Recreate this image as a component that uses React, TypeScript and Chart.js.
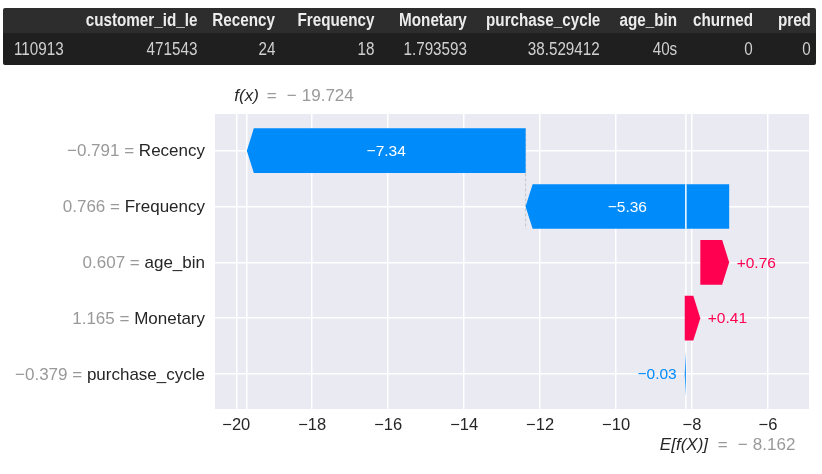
import { useEffect, useRef } from "react";
import { Chart, registerables } from "chart.js";

Chart.register(...registerables);

// ---- data ----
const tableColumns = ["", "customer_id_le", "Recency", "Frequency", "Monetary", "purchase_cycle", "age_bin", "churned", "pred"];
const tableRow = ["110913", "471543", "24", "18", "1.793593", "38.529412", "40s", "0", "0"];

const features = ["Recency", "Frequency", "age_bin", "Monetary", "purchase_cycle"];
const featureValues = [-0.791, 0.766, 0.607, 1.165, -0.379];
const shapValues = [-7.34, -5.36, 0.76, 0.41, -0.03];
const baseValue = -8.162;
const fxValue = -19.724;
const xTicks = [-20, -18, -16, -14, -12, -10, -8, -6];

// ---- style ----
const FONT = "'Liberation Sans', Arial, Helvetica, sans-serif";
const BLUE = "#008bfb";
const PINK = "#ff0051";
const DARK = "#262626";
const GRAY = "#999999";
const colWidths = [77, 122, 78, 99, 93, 133, 77, 76, 58];

const minus = (s: string) => s.replace(/-/g, "\u2212");

export default function App() {
  const ref = useRef<HTMLCanvasElement>(null);

  useEffect(() => {
    const canvas = ref.current;
    if (!canvas) return;
    const n = features.length;
    const starts: number[] = new Array(n);
    const ends: number[] = new Array(n);
    let cum = baseValue;
    for (let i = n - 1; i >= 0; i--) {
      starts[i] = cum;
      ends[i] = cum + shapValues[i];
      cum = ends[i];
    }

    const plugin = {
      id: "waterfall",
      beforeDatasetsDraw(chart: any) {
        const { ctx, chartArea, scales } = chart;
        const x = scales.x, y = scales.y;
        ctx.save();
        ctx.strokeStyle = "#ffffff";
        ctx.lineWidth = 1.5;
        [fxValue, baseValue].forEach((v) => {
          const px = x.getPixelForValue(v);
          ctx.beginPath();
          ctx.moveTo(px, chartArea.top);
          ctx.lineTo(px, chartArea.bottom);
          ctx.stroke();
        });
        ctx.strokeStyle = "#bbbbbb";
        ctx.lineWidth = 0.8;
        ctx.setLineDash([3, 2]);
        for (let k = 0; k + 4 < n; k++) {
          const px = x.getPixelForValue(starts[k]);
          ctx.beginPath();
          ctx.moveTo(px, y.getPixelForValue(k - 0.4));
          ctx.lineTo(px, y.getPixelForValue(k + 1.4));
          ctx.stroke();
        }
        ctx.restore();
      },
      afterDatasetsDraw(chart: any) {
        const { ctx, scales } = chart;
        const x = scales.x;
        const meta = chart.getDatasetMeta(0);
        ctx.save();
        const basePx = x.getPixelForValue(baseValue);
        meta.data.forEach((el: any, i: number) => {
          const { y: cy, height } = el.getProps(["y", "height"], true);
          const s = x.getPixelForValue(starts[i]);
          const e = x.getPixelForValue(ends[i]);
          const dir = e >= s ? 1 : -1;
          const len = Math.abs(e - s);
          const hl = Math.min(7, len);
          const top = cy - height / 2;
          const bot = cy + height / 2;
          const neck = e - dir * hl;
          const color = shapValues[i] > 0 ? PINK : BLUE;
          ctx.fillStyle = color;
          ctx.beginPath();
          ctx.moveTo(s, top);
          ctx.lineTo(neck, top);
          ctx.lineTo(e, cy);
          ctx.lineTo(neck, bot);
          ctx.lineTo(s, bot);
          ctx.closePath();
          ctx.fill();

          const label = (shapValues[i] > 0 ? "+" : "\u2212") + Math.abs(shapValues[i]).toFixed(2);
          ctx.font = `15.5px ${FONT}`;
          ctx.textBaseline = "middle";
          const tw = ctx.measureText(label).width;
          if (len > tw + 14) {
            const lo = Math.min(s, e), hi = Math.max(s, e);
            if (basePx > lo + hl && basePx < hi - hl) {
              ctx.strokeStyle = "#ffffff";
              ctx.lineWidth = 1.5;
              ctx.beginPath();
              ctx.moveTo(basePx, top);
              ctx.lineTo(basePx, bot);
              ctx.stroke();
            }
            ctx.fillStyle = "#ffffff";
            ctx.textAlign = "center";
            ctx.fillText(label, (s + e) / 2, cy + 1);
          } else {
            ctx.fillStyle = color;
            if (dir > 0) {
              ctx.textAlign = "left";
              ctx.fillText(label, e + 7.5, cy + 1);
            } else {
              ctx.textAlign = "right";
              ctx.fillText(label, e - 8, cy + 1);
            }
          }
        });
        ctx.restore();
      },
      afterDraw(chart: any) {
        const { ctx, chartArea, scales } = chart;
        const x = scales.x, y = scales.y;
        ctx.save();
        ctx.textBaseline = "middle";
        const rightX = chartArea.left - 10;
        features.forEach((name, i) => {
          const py = y.getPixelForValue(i) + 1;
          ctx.font = `17px ${FONT}`;
          ctx.textAlign = "right";
          ctx.fillStyle = DARK;
          ctx.fillText(name, rightX, py);
          const w = ctx.measureText(name).width;
          ctx.fillStyle = GRAY;
          ctx.fillText(minus(featureValues[i].toFixed(3)) + " = ", rightX - w, py);
        });
        const drawEq = (px: number, py: number, lab: string, labOff: number, eqOff: number, val: number) => {
          ctx.textAlign = "left";
          ctx.font = `italic 17px ${FONT}`;
          ctx.fillStyle = DARK;
          ctx.fillText(lab, px + labOff, py);
          ctx.font = `17px ${FONT}`;
          ctx.fillStyle = GRAY;
          ctx.fillText("=", px + eqOff, py);
          ctx.fillText(val < 0 ? "\u2212" : "", px + eqOff + 20, py);
          ctx.fillText(Math.abs(val).toFixed(3), px + eqOff + 35, py);
        };
        drawEq(x.getPixelForValue(fxValue), chartArea.top - 18, "f(x)", -12.5, 20, fxValue);
        drawEq(x.getPixelForValue(baseValue), chartArea.bottom + 36, "E[f(X)]", -26, 32, baseValue);
        ctx.restore();
      },
    };

    const chart = new Chart(canvas, {
      type: "bar",
      data: {
        datasets: [
          {
            data: features.map((_, i) => ({ x: [starts[i], ends[i]], y: i })) as any,
            backgroundColor: "rgba(0,0,0,0)",
            borderWidth: 0,
            categoryPercentage: 0.8,
            barPercentage: 1,
          },
        ],
      },
      options: {
        indexAxis: "y",
        responsive: false,
        animation: false,
        layout: { padding: { top: 114, right: 13, left: 0, bottom: 0 } },
        plugins: { legend: { display: false }, tooltip: { enabled: false } },
        scales: {
          x: {
            type: "linear",
            position: "bottom",
            min: -20.56,
            max: -4.92,
            afterBuildTicks: (scale: any) => {
              scale.ticks = xTicks.map((v) => ({ value: v }));
            },
            afterFit: (scale: any) => {
              scale.height = 65;
            },
            grid: { color: "#ffffff", lineWidth: 1.5, drawTicks: false },
            border: { display: false },
            ticks: {
              padding: 7,
              color: DARK,
              font: { family: FONT, size: 16.5 },
              callback: (v: any) => minus(String(v)),
            },
          },
          y: {
            type: "linear",
            reverse: true,
            offset: false,
            min: -0.657,
            max: 4.627,
            afterBuildTicks: (scale: any) => {
              scale.ticks = features.map((_, i) => ({ value: i }));
            },
            afterFit: (scale: any) => {
              scale.width = 215;
            },
            grid: { color: "#ffffff", lineWidth: 1.5, drawTicks: false, offset: false },
            border: { display: false },
            ticks: { display: false },
          },
        },
      },
      plugins: [
        {
          id: "bg",
          beforeDraw(chart: any) {
            const { ctx, chartArea } = chart;
            ctx.save();
            ctx.fillStyle = "#eaeaf2";
            ctx.fillRect(chartArea.left, chartArea.top, chartArea.right - chartArea.left, chartArea.bottom - chartArea.top);
            ctx.restore();
          },
        },
        plugin,
      ],
    } as any);
    return () => chart.destroy();
  }, []);

  const cellStyle = (i: number, header: boolean): any => ({
    padding: i === 0 ? "0 0 0 11px" : "0 5px 0 0",
    textAlign: i === 0 ? "left" : "right",
    whiteSpace: "nowrap",
    overflow: "visible",
    fontWeight: header ? "bold" : "normal",
    color: header ? "#ececec" : "#d0d0d0",
  });
  const spanStyle = (i: number): any => ({
    display: "inline-block",
    transform: "scaleX(0.87)",
    transformOrigin: i === 0 ? "left center" : "right center",
    marginLeft: i === 0 ? 0 : -200,
    marginRight: i === 0 ? -200 : 0,
  });

  return (
    <div style={{ position: "fixed", left: 0, top: 0, width: 822, height: 474, background: "#ffffff", overflow: "hidden" }}>
      <canvas ref={ref} width={822} height={474} style={{ position: "absolute", left: 0, top: 0, width: 822, height: 474 }} />
      <div style={{ position: "absolute", left: 3, top: 8, width: 813, borderRadius: 2, overflow: "hidden" }}>
        <table
          style={{
            borderCollapse: "collapse",
            tableLayout: "fixed",
            width: 813,
            fontFamily: FONT,
            fontSize: "17.5px",
          }}
        >
          <colgroup>
            {colWidths.map((w, i) => (
              <col key={i} style={{ width: w }} />
            ))}
          </colgroup>
          <thead>
            <tr style={{ height: 25, background: "#2d2d2d" }}>
              {tableColumns.map((c, i) => (
                <th key={i} style={cellStyle(i, true)}>
                  <span style={spanStyle(i)}>{c}</span>
                </th>
              ))}
            </tr>
          </thead>
          <tbody>
            <tr style={{ height: 32, background: "#1f1f1f" }}>
              {tableRow.map((c, i) => (
                <td key={i} style={cellStyle(i, false)}>
                  <span style={spanStyle(i)}>{c}</span>
                </td>
              ))}
            </tr>
          </tbody>
        </table>
      </div>
    </div>
  );
}
